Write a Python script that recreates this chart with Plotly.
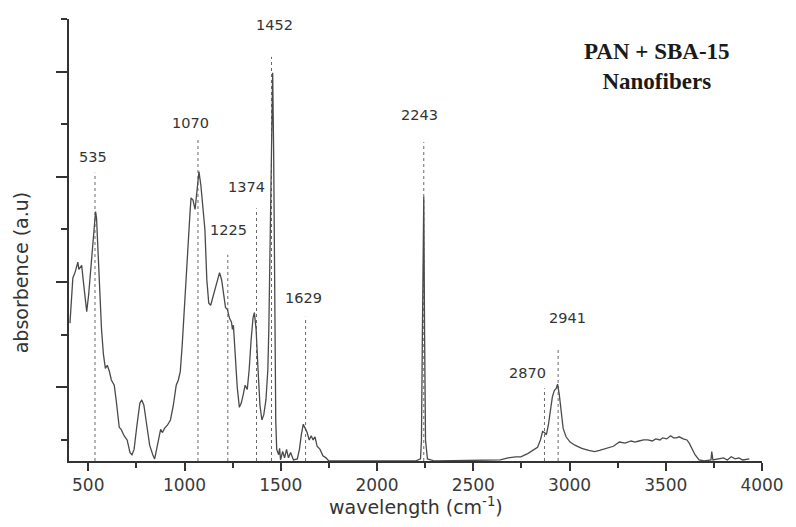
import plotly.graph_objects as go

# FTIR spectrum of PAN + SBA-15 nanofibers (wavenumber, absorbance a.u.)
wavenumber = [
    405, 415, 420, 431, 441, 446, 451, 456, 466, 472, 482, 492, 502, 512, 523, 533, 538, 543,
    553, 559, 569, 579, 589, 599, 610, 620, 635, 645, 661, 671, 686, 702, 717, 727, 738, 753,
    768, 778, 789, 804, 819, 835, 845, 855, 865, 876, 886, 896, 911, 927, 942, 957, 968, 978,
    988, 998, 1009, 1019, 1029, 1034, 1044, 1055, 1065, 1075, 1085, 1095, 1106, 1116, 1126,
    1136, 1152, 1167, 1182, 1193, 1203, 1213, 1223, 1233, 1244, 1249, 1254, 1264, 1274, 1285,
    1295, 1305, 1315, 1326, 1336, 1346, 1356, 1363, 1372, 1382, 1392, 1402, 1412, 1423, 1433,
    1438, 1443, 1448, 1453, 1458, 1463, 1469, 1474, 1479, 1489, 1494, 1499, 1510, 1520, 1530,
    1540, 1551, 1566, 1586, 1597, 1607, 1617, 1627, 1637, 1648, 1658, 1668, 1678, 1689, 1704,
    1719, 1735, 1750, 2200, 2226, 2231, 2236, 2243, 2247, 2252, 2262, 2300, 2640, 2681, 2720,
    2747, 2783, 2808, 2834, 2849, 2860, 2870, 2880, 2890, 2901, 2911, 2921, 2931, 2938, 2947,
    2957, 2967, 2982, 3003, 3028, 3064, 3100, 3131, 3156, 3192, 3228, 3259, 3289, 3320, 3340,
    3361, 3385, 3407, 3430, 3448, 3470, 3484, 3505, 3525, 3540, 3555, 3570, 3591, 3610, 3622,
    3637, 3652, 3673, 3700, 3735, 3739, 3745, 3780, 3800, 3820, 3840, 3860, 3880, 3900, 3934,
]
absorbance = [
    1.61, 1.93, 2.04, 2.09, 2.16, 2.19, 2.12, 2.13, 2.16, 2.05, 1.88, 1.72, 1.88, 2.12, 2.35,
    2.59, 2.67, 2.61, 2.21, 1.83, 1.55, 1.31, 1.18, 1.21, 1.15, 1.07, 1.02, 0.88, 0.62, 0.60,
    0.54, 0.50, 0.38, 0.36, 0.41, 0.64, 0.85, 0.88, 0.83, 0.64, 0.45, 0.36, 0.32, 0.41, 0.52,
    0.60, 0.57, 0.61, 0.64, 0.69, 0.83, 1.02, 1.07, 1.15, 1.40, 1.74, 2.07, 2.35, 2.67, 2.80,
    2.78, 2.69, 2.88, 3.05, 2.92, 2.73, 2.50, 2.02, 1.80, 1.78, 1.88, 1.99, 2.09, 2.02, 1.88,
    1.76, 1.74, 1.66, 1.62, 1.55, 1.59, 1.31, 1.00, 0.81, 0.85, 0.93, 1.02, 0.98, 1.17, 1.45,
    1.66, 1.71, 1.55, 1.17, 0.83, 0.69, 0.74, 0.88, 1.17, 1.55, 2.21, 2.81, 3.73, 3.99, 3.26,
    1.83, 0.69, 0.41, 0.36, 0.42, 0.31, 0.39, 0.33, 0.41, 0.33, 0.38, 0.31, 0.32, 0.41, 0.55,
    0.65, 0.61, 0.57, 0.50, 0.54, 0.50, 0.53, 0.44, 0.41, 0.35, 0.33, 0.30, 0.30, 0.32, 0.50,
    1.55, 2.81, 1.55, 0.50, 0.32, 0.30, 0.31, 0.33, 0.34, 0.34, 0.37, 0.40, 0.43, 0.50, 0.58,
    0.57, 0.55, 0.64, 0.77, 0.91, 0.97, 0.99, 1.03, 0.93, 0.77, 0.61, 0.53, 0.48, 0.45, 0.42,
    0.40, 0.39, 0.40, 0.42, 0.44, 0.48, 0.47, 0.49, 0.48, 0.49, 0.50, 0.50, 0.49, 0.51, 0.50,
    0.52, 0.51, 0.54, 0.52, 0.52, 0.53, 0.51, 0.50, 0.47, 0.42, 0.36, 0.31, 0.30, 0.31, 0.39,
    0.31, 0.32, 0.33, 0.31, 0.34, 0.32, 0.33, 0.31, 0.32, 0.30,
]

# Labelled band positions and the height of each dotted marker line
peak_wavenumber = [535, 1070, 1225, 1374, 1452, 1629, 2243, 2870, 2941]
peak_marker_top = [3.04, 3.35, 2.26, 2.70, 4.14, 1.67, 3.33, 0.99, 1.36]

x_ticks = [500, 1000, 1500, 2000, 2500, 3000, 3500, 4000]
baseline = 0.3

# pixel offsets of each band label from the top of its marker line
label_dx = [-2, -7, 1, -10, 3, -2, -4, -17, 9]
label_dy = [16, 17, 25, 21, 32, 19, 27, 15, 31]

fig = go.Figure()

# dotted vertical markers
mx, my = [], []
for w, top in zip(peak_wavenumber, peak_marker_top):
    mx += [w, w, None]
    my += [baseline, top, None]
fig.add_trace(go.Scatter(
    x=mx, y=my, mode="lines",
    line=dict(color="#6a6a6a", width=1, dash="dot"),
    hoverinfo="skip", showlegend=False,
))

# spectrum
fig.add_trace(go.Scatter(
    x=wavenumber, y=absorbance, mode="lines",
    line=dict(color="#4a4a4a", width=1.3),
    showlegend=False,
))

label_font = dict(family="DejaVu Sans", size=14.5, color="#333333")
for w, top, dx, dy in zip(peak_wavenumber, peak_marker_top, label_dx, label_dy):
    fig.add_annotation(
        x=w, y=top, text=str(w), showarrow=False,
        xshift=dx, yshift=dy, xanchor="center", yanchor="middle",
        font=label_font,
    )

fig.add_annotation(
    xref="paper", yref="paper", x=0.848, y=0.892,
    text="<b>PAN + SBA-15</b><br><b>Nanofibers</b>", showarrow=False,
    xanchor="center", yanchor="middle", align="center",
    font=dict(family="Liberation Serif", size=23, color="#1a1a1a"),
)

fig.add_annotation(
    xref="paper", yref="paper", x=0.5, y=-0.102,
    text="wavelength (cm<sup>-1</sup>)", showarrow=False,
    xanchor="center", yanchor="middle",
    font=dict(family="DejaVu Sans", size=19, color="#333333"),
)
fig.add_annotation(
    xref="paper", yref="paper", x=-0.07, y=0.428, textangle=-90,
    text="absorbence (a.u)", showarrow=False,
    xanchor="center", yanchor="middle",
    font=dict(family="DejaVu Sans", size=19, color="#333333"),
)

fig.update_xaxes(
    range=[400, 4000], tickvals=x_ticks, ticktext=[str(t) for t in x_ticks],
    showline=True, linecolor="#333333", linewidth=2,
    ticks="outside", ticklen=8, tickwidth=2, tickcolor="#333333",
    minor=dict(dtick=250, tick0=250, ticks="outside", ticklen=5, tickwidth=2, tickcolor="#333333"),
    showgrid=False, zeroline=False,
    tickfont=dict(family="DejaVu Sans", size=17, color="#3a3a3a"),
)
fig.update_yaxes(
    range=[baseline, 4.5], dtick=1, tick0=0, showticklabels=False,
    showline=True, linecolor="#333333", linewidth=2,
    ticks="outside", ticklen=11, tickwidth=2, tickcolor="#333333",
    minor=dict(dtick=0.5, tick0=0, ticks="outside", ticklen=6, tickwidth=2, tickcolor="#333333"),
    showgrid=False, zeroline=False,
)

fig.update_layout(
    width=796, height=527,
    margin=dict(l=69, r=23, t=19, b=66),
    plot_bgcolor="white", paper_bgcolor="white",
)

fig.write_html("out.html")
